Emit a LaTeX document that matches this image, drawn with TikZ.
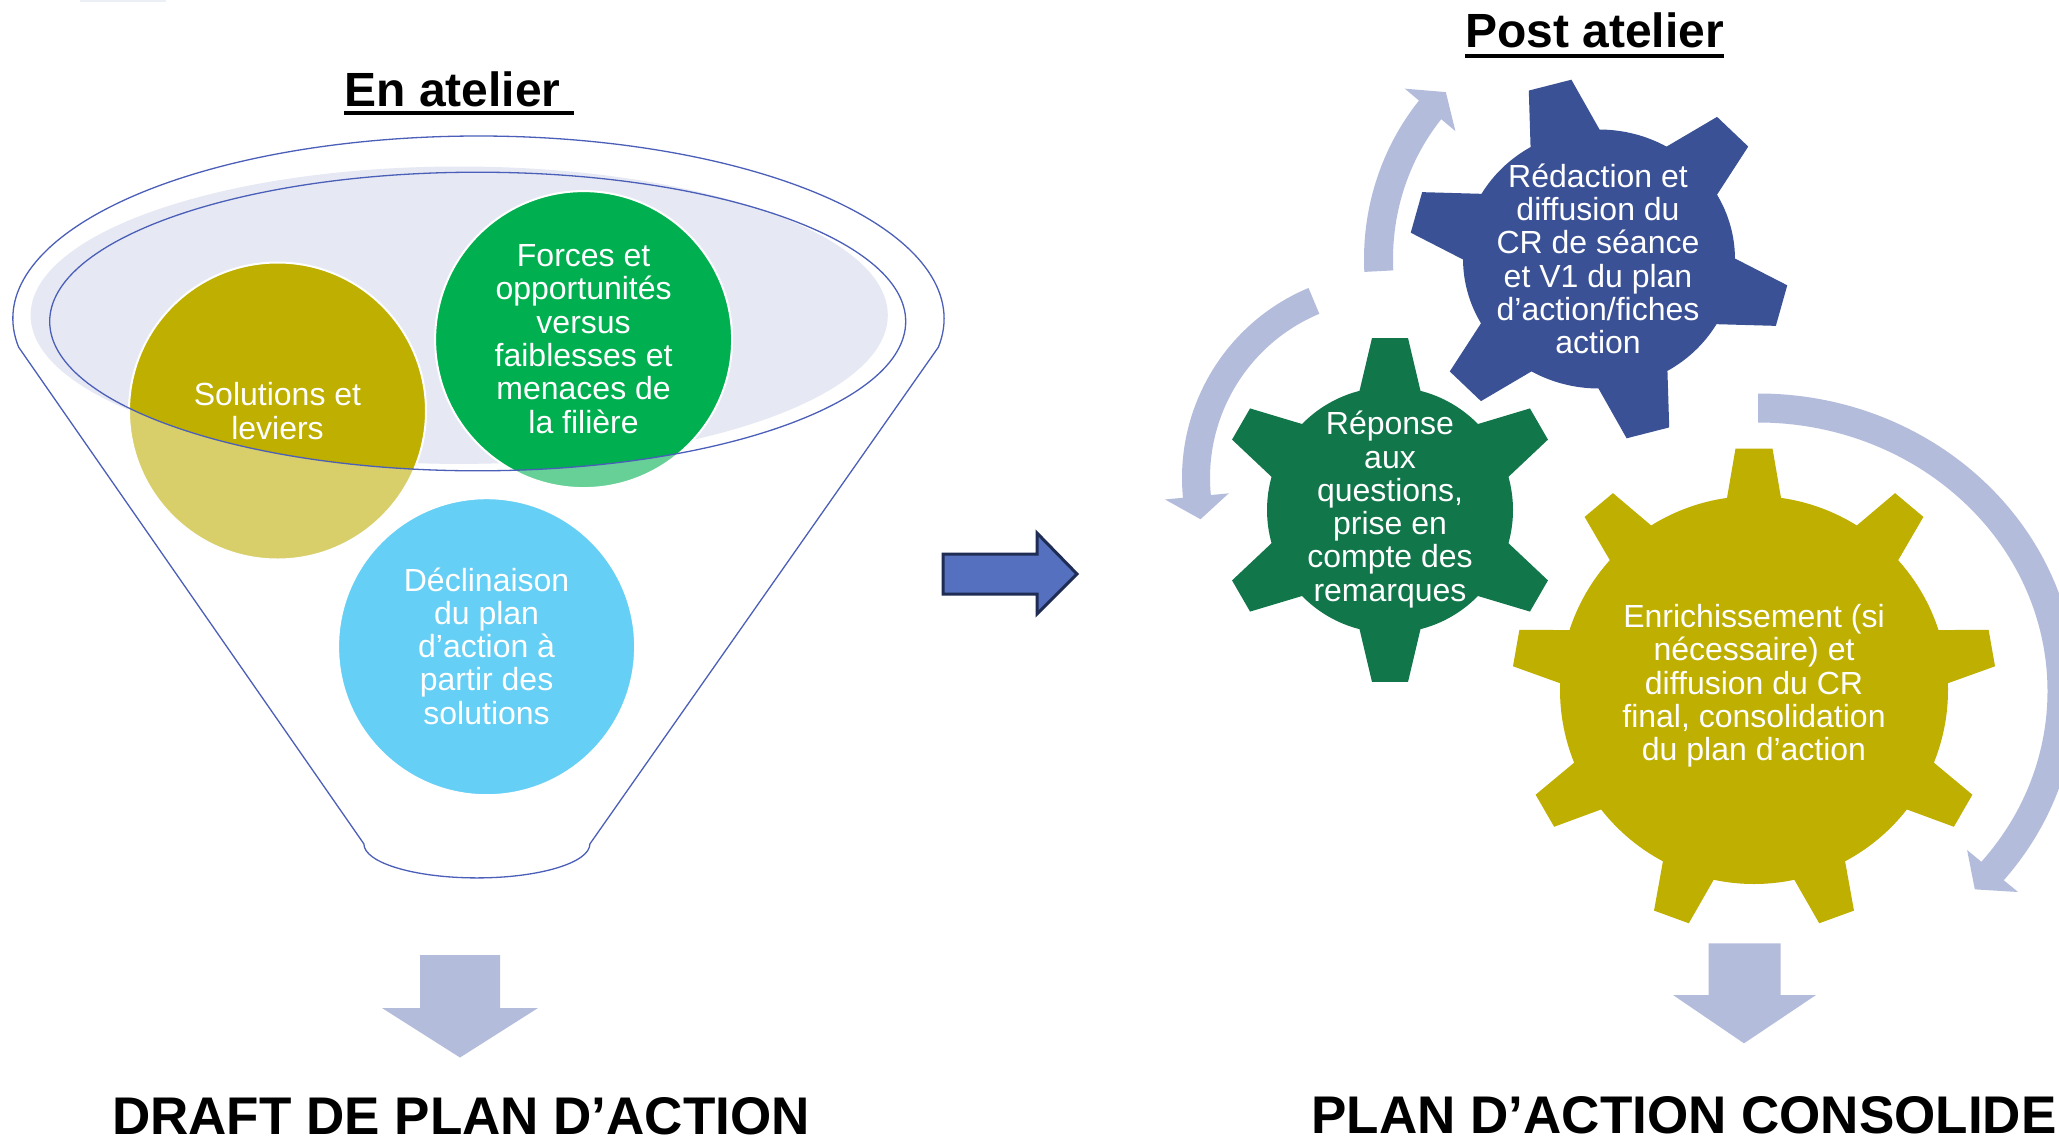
\documentclass[tikz,border=0pt]{standalone}
\usepackage{fontspec}
\setmainfont{Liberation Sans}
\definecolor{funcol}{RGB}{75,95,185}
\definecolor{lavfill}{RGB}{230,233,243}
\definecolor{faintbar}{RGB}{236,239,246}
\definecolor{oliveC}{RGB}{191,175,0}
\definecolor{oliveL}{RGB}{216,207,107}
\definecolor{greenC}{RGB}{0,176,80}
\definecolor{greenL}{RGB}{102,208,150}
\definecolor{blueL}{RGB}{102,207,245}
\definecolor{gearblue}{RGB}{59,81,150}
\definecolor{geargreen}{RGB}{17,118,74}
\definecolor{gearolive}{RGB}{191,175,0}
\definecolor{arrcol}{RGB}{180,188,220}
\definecolor{midfill}{RGB}{84,112,190}
\definecolor{middraw}{RGB}{31,45,85}
% gear: #1 options, #2 outer radius, #3 body radius, #4 teeth, #5 first tooth angle, #6 tip half width, #7 base half width
\newcommand\mygear[7]{%
  \pgfmathsetmacro\gbb{asin(#7/#3)}%
  \pgfmathsetmacro\gbt{atan(#6/#2)}%
  \pgfmathsetmacro\grt{#2/cos(\gbt)}%
  \pgfmathsetmacro\gstep{360/#4}%
  \fill[#1] ({#5-\gbb}:#3) \foreach \k in {1,...,#4} {
     -- ({#5+(\k-1)*\gstep-\gbt}:\grt) -- ({#5+(\k-1)*\gstep+\gbt}:\grt)
     -- ({#5+(\k-1)*\gstep+\gbb}:#3)
     arc[start angle={#5+(\k-1)*\gstep+\gbb}, end angle={#5+\k*\gstep-\gbb}, radius=#3]
  } -- cycle;%
}
% curved arrow: #1,#2 centre, #3,#4 radii, #5 half band, #6 start, #7 head base, #8 tip, #9 head half span
\newcommand\myarc[9]{%
  \fill[arrowc, shift={(#1,#2)}] ({#6}:{#3+#5} and {#4+#5})
    arc[start angle=#6, end angle=#7, x radius={#3+#5}, y radius={#4+#5}]
    -- ({#7}:{#3+#9} and {#4+#9}) -- ({#8}:{#3} and {#4}) -- ({#7}:{#3-#9} and {#4-#9})
    -- ({#7}:{#3-#5} and {#4-#5})
    arc[start angle=#7, end angle=#6, x radius={#3-#5}, y radius={#4-#5}] -- cycle;%
}
\begin{document}
\begin{tikzpicture}[x=1pt,y=-1pt,
  cirtext/.style={text=white,align=center,inner sep=0pt,font=\fontsize{32}{33.3}\selectfont},
  titletext/.style={inner sep=0pt,font=\bfseries\fontsize{48}{50}\selectfont},
  bigtext/.style={inner sep=0pt,text depth=0pt,font=\bfseries\fontsize{53}{55}\selectfont},
  funline/.style={draw=funcol,line width=1.3pt},
  arrowc/.style={fill=arrcol},
  bubble/.style={draw=white,line width=2pt},
  midarrow/.style={fill=midfill,draw=middraw,line width=3pt,line join=miter}]
\useasboundingbox (0,0) rectangle (2059,1141);
\fill[white] (0,0) rectangle (2059,1141);
\clip (0,0) rectangle (2059,1141);
\fill[faintbar] (80,0) rectangle (166,1.5);

% ---------- funnel ----------
\begin{scope}[shift={(478.5,318.6)}]
  \draw[funline] (171:465.6 and 182.6)
    arc[start angle=171,end angle=369,x radius=465.6,y radius=182.6]
    -- (111.4,525.3) arc[start angle=0,end angle=180,x radius=113,y radius=34] -- cycle;
\end{scope}
\fill[lavfill] (459.2,315.2) ellipse[x radius=428.6,y radius=148.7];

\fill[oliveL] (277.5,411) circle[radius=148.5];
\fill[greenL] (583.6,339.6) circle[radius=148.5];
\fill[blueL] (486.6,646.7) circle[radius=148.5];
\begin{scope}
  \clip (477.7,321.5) ellipse[x radius=428,y radius=149.3];
  \fill[oliveC] (277.5,411) circle[radius=148.5];
  \fill[greenC] (583.6,339.6) circle[radius=148.5];
\end{scope}
\draw[bubble] (277.5,411) circle[radius=148.5];
\draw[bubble] (583.6,339.6) circle[radius=148.5];
\draw[bubble] (486.6,646.7) circle[radius=148.5];
\draw[funline] (477.7,321.5) ellipse[x radius=428,y radius=149.3];

\node[cirtext] (sol) at (277.5,411) {Solutions et\\leviers};
\node[cirtext] (forces) at (583.6,339) {Forces et\\opportunités\\versus\\faiblesses et\\menaces de\\la filière};
\node[cirtext] (decl) at (486.6,646) {Déclinaison\\du plan\\d’action à\\partir des\\solutions};

% ---------- titles ----------
\node[titletext,anchor=base west] (ten) at (344.4,106.2) {En atelier};
\draw[line width=4pt] ([yshift=-6.5pt]ten.base west) -- ++(229.6,0);
\node[titletext,anchor=base west] (tpost) at (1465,47.3) {Post atelier};
\draw[line width=4pt] ([yshift=-8.3pt]tpost.base west) -- ++(258.5,0);

% ---------- middle arrow ----------
\filldraw[midarrow] (943,554) -- (1037,554) -- (1037,533) -- (1077,574) -- (1037,614) -- (1037,594) -- (943,594) -- cycle;

% ---------- curved arrows ----------
\myarc{1599}{259}{220.5}{232}{14.5}{177}{220}{226}{33}
\myarc{1388}{478}{192}{192}{14}{247.3}{174.5}{167.6}{32}
\myarc{1758}{691}{304}{283}{14.5}{-90}{39.5}{44.5}{33}

% ---------- gears ----------
\mygear{gearblue,shift={(1599,259)},xscale=1.05}{180}{129.5}{6}{-105}{21}{34}
\mygear{geargreen,shift={(1390,510)}}{172}{123}{6}{-90}{18}{30.5}
\mygear{gearolive,shift={(1754,690)}}{241.5}{194}{9}{-90}{18.5}{27}

\node[cirtext] (gb) at (1598,259) {Rédaction et\\diffusion du\\CR de séance\\et V1 du plan\\d’action/fiches\\action};
\node[cirtext] (gg) at (1390,509.5) {Réponse\\aux\\questions,\\prise en\\compte des\\remarques};
\node[cirtext] (go) at (1754,686) {Enrichissement (si\\nécessaire) et\\diffusion du CR\\final, consolidation\\du plan d’action};

% ---------- down arrows ----------
\fill[arrowc] (420,955) -- (500,955) -- (500,1008) -- (538,1008) -- (460,1057.5) -- (382,1008) -- (420,1008) -- cycle;
\fill[arrowc] (1708.5,943.3) -- (1780.7,943.3) -- (1780.7,995) -- (1816,995) -- (1744,1043.3) -- (1673,995) -- (1708.5,995) -- cycle;

% ---------- bottom labels ----------
\node[bigtext,anchor=base] (draft) at (461,1134.5) {DRAFT DE PLAN D’ACTION};
\node[bigtext,anchor=base] (conso) at (1684,1133) {PLAN D’ACTION CONSOLIDE};
\end{tikzpicture}
\end{document}
